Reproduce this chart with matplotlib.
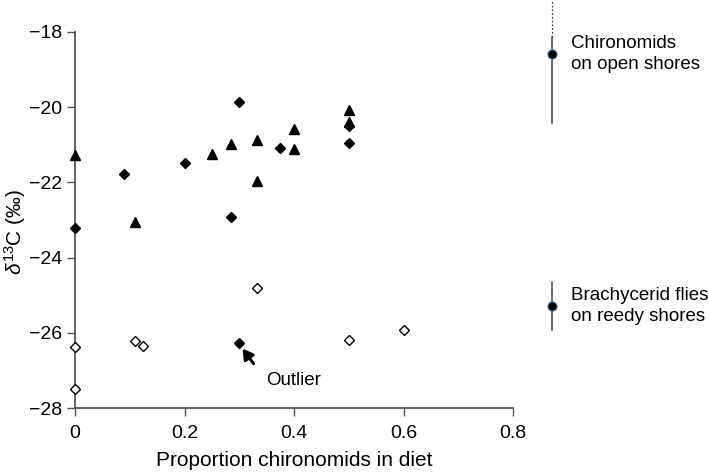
import matplotlib
matplotlib.use("Agg")
import matplotlib.pyplot as plt

plt.rcParams['font.family'] = ['Liberation Sans', 'DejaVu Sans']
plt.rcParams['mathtext.fontset'] = 'custom'
plt.rcParams['mathtext.rm'] = 'Liberation Sans'
plt.rcParams['mathtext.it'] = 'Liberation Sans:italic'

# Triangles (filled)
tri_x = [0.0, 0.11, 0.25, 0.285, 0.333, 0.333, 0.40, 0.40, 0.5, 0.5]
tri_y = [-21.27, -23.05, -21.24, -20.98, -20.88, -21.95, -20.59, -21.10, -20.07, -20.40]

# Filled diamonds
dia_x = [0.0, 0.09, 0.2, 0.3, 0.285, 0.375, 0.5, 0.5, 0.3]
dia_y = [-23.21, -21.78, -21.48, -19.87, -22.92, -21.09, -20.94, -20.50, -26.27]

# Open diamonds
odia_x = [0.0, 0.0, 0.11, 0.125, 0.333, 0.5, 0.6]
odia_y = [-26.38, -27.50, -26.23, -26.34, -24.80, -26.19, -25.93]

# Reference sources (mean, error)
src_x = 0.871
chir_mean, chir_err = -18.59, 1.83
brach_mean, brach_err = -25.29, 0.63

xticks = [0, 0.2, 0.4, 0.6, 0.8]
xticklabels = ['0', '0.2', '0.4', '0.6', '0.8']
yticks = [-28, -26, -24, -22, -20, -18]

fig = plt.figure(figsize=(7.09, 4.74), dpi=100)
ax = fig.add_axes([0.1058, 0.1392, 0.6178, 0.7933])

ax.plot(tri_x, tri_y, linestyle='none', marker='^', markersize=7.5,
        color='black', clip_on=False, zorder=3)
ax.plot(dia_x, dia_y, linestyle='none', marker='D', markersize=4.6,
        color='black', clip_on=False, zorder=3)
ax.plot(odia_x, odia_y, linestyle='none', marker='D', markersize=4.6,
        markerfacecolor='white', markeredgecolor='black', markeredgewidth=1.0,
        clip_on=False, zorder=3)

# Error bars of sources
bar_col = '#444444'
ax.plot([src_x, src_x], [chir_mean - chir_err, -18.13], color=bar_col, lw=1.1,
        clip_on=False, zorder=2)
ax.plot([src_x, src_x], [-18.13, chir_mean + chir_err], color=bar_col, lw=0.9,
        linestyle=(0, (1.5, 1.5)), clip_on=False, zorder=2)
ax.plot([src_x, src_x], [brach_mean - brach_err, brach_mean + brach_err],
        color=bar_col, lw=1.1, clip_on=False, zorder=2)
ax.plot([src_x, src_x], [chir_mean, brach_mean], linestyle='none', marker='o',
        markersize=6.5, markerfacecolor='black', markeredgecolor='#3a6ea5',
        markeredgewidth=0.8, clip_on=False, zorder=4)

ax.text(0.906, chir_mean, 'Chironomids\non open shores', fontsize=13.5,
        ha='left', va='center', linespacing=1.32)
ax.text(0.906, brach_mean, 'Brachycerid flies\non reedy shores', fontsize=13.5,
        ha='left', va='center', linespacing=1.32)

# Outlier annotation
ax.annotate('', xy=(0.306, -26.42), xytext=(0.326, -26.82),
            arrowprops=dict(arrowstyle='-|>,head_length=0.6,head_width=0.35',
                            color='black', lw=2.2, shrinkA=0, shrinkB=0))
ax.text(0.40, -27.26, 'Outlier', fontsize=13.5, ha='center', va='center')

ax.set_xlim(0, 0.8)
ax.set_ylim(-28, -18)
ax.set_xticks(xticks)
ax.set_xticklabels(xticklabels)
ax.set_yticks(yticks)
ax.set_yticklabels(['\u2212%d' % abs(v) for v in yticks])

for s in ['top', 'right']:
    ax.spines[s].set_visible(False)
for s in ['left', 'bottom']:
    ax.spines[s].set_color('#555555')
    ax.spines[s].set_linewidth(1.3)
ax.tick_params(axis='both', direction='out', length=6, width=1.0,
               color='#555555', labelsize=14)
ax.tick_params(axis='x', pad=6)
ax.tick_params(axis='y', pad=3)

ax.set_xlabel('Proportion chironomids in diet', fontsize=15, labelpad=7)
ax.set_ylabel(r'$\mathit{\delta}^{13}$C (‰)', fontsize=15)
ax.yaxis.set_label_coords(-0.108, 0.468)

fig.savefig('out.png', dpi=100)
